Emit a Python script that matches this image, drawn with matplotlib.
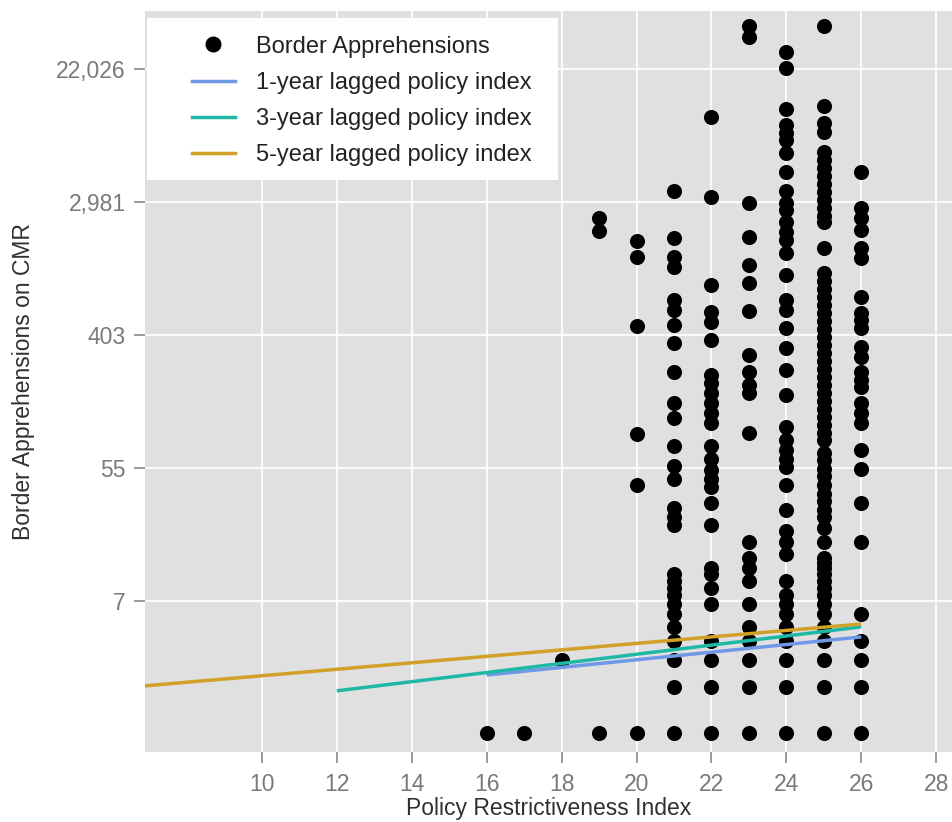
import numpy as np
import matplotlib
matplotlib.use("Agg")
import matplotlib.pyplot as plt
from matplotlib.lines import Line2D
from matplotlib.patches import Rectangle
from matplotlib.ticker import FixedLocator, NullLocator

### DATA
# policy restrictiveness index (x) and border apprehension counts read per column
policy_index = [16, 17, 18, 19, 20, 21, 22, 23, 24, 25, 26]
apprehensions = [
    [1],
    [1],
    [3],
    [1, 1940, 2350],
    [1, 42, 91, 464, 1310, 1670],
    [1, 2, 3, 4, 5, 6, 7, 8, 9, 10, 11, 23, 26, 30, 46, 56, 76, 116, 145, 232,
     358, 470, 590, 685, 1130, 1310, 1740, 3530],
    [1, 2, 3, 4, 7, 9, 11, 12, 23, 32, 41, 46, 53, 62, 76, 108, 125, 145, 169,
     196, 221, 376, 492, 572, 855, 3220, 10700],
    [1, 2, 3, 4, 5, 7, 10, 12, 14, 18, 92, 169, 190, 232, 299, 580, 880, 1160,
     1770, 2950, 35700, 42200],
    [1, 2, 3, 4, 5, 6, 7, 8, 10, 15, 18, 21, 29, 42, 55, 62, 71, 83, 101, 164,
     240, 333, 450, 590, 685, 1000, 1390, 1690, 1900, 2210, 2650, 2950, 3530,
     4720, 6260, 7630, 8430, 9520, 12100, 22500, 28600],
    [1, 2, 3, 4, 5, 6, 7, 8, 9, 10, 11, 12, 13, 14, 18, 22, 26, 29, 33, 37, 42,
     48, 54, 61, 68, 83, 92, 104, 118, 133, 150, 169, 190, 215, 242, 273, 308,
     348, 392, 442, 499, 563, 635, 716, 808, 911, 1028, 1500, 2210, 2420, 2730,
     3080, 3480, 3930, 4430, 5010, 5650, 6360, 8560, 9800, 12700, 42200],
    [1, 2, 3, 4, 6, 18, 32, 54, 71, 108, 125, 145, 185, 205, 232, 290, 337, 450,
     507, 563, 715, 1290, 1500, 1960, 2350, 2730, 4720],
]

# fitted lines (end points)
lag1_x = [16, 26]
lag1_y = [2.41, 4.28]
lag3_x = [12, 26]
lag3_y = [1.90, 4.98]
lag5_x = [6.5, 26]
lag5_y = [2.01, 5.20]

line_labels = ["1-year lagged policy index", "3-year lagged policy index",
               "5-year lagged policy index"]
line_colors = ["#6f98e6", "#1fb8a6", "#d1a127"]

ytick_vals = np.exp([2, 4, 6, 8, 10])
xtick_vals = [10, 12, 14, 16, 18, 20, 22, 24, 26, 28]

### PLOT
plt.rcParams["font.family"] = ["Liberation Sans", "DejaVu Sans"]

fig = plt.figure(figsize=(9.52, 8.22), dpi=100)
ax = fig.add_axes([0.1523, 0.0852, 0.8477, 0.9014])
ax.set_facecolor("#e0e0e0")
for s in ax.spines.values():
    s.set_visible(False)

xs = np.concatenate([[x] * len(v) for x, v in zip(policy_index, apprehensions)])
ys = np.concatenate(apprehensions)
ax.scatter(xs, ys, s=118, color="black", linewidths=0, zorder=3)

for lx, ly, c in zip([lag1_x, lag3_x, lag5_x], [lag1_y, lag3_y, lag5_y], line_colors):
    ax.plot(lx, ly, color=c, lw=2.5, zorder=4, solid_capstyle="butt")

ax.set_yscale("log")
ax.set_xlim(6.88, 28.42)
ax.set_ylim(np.exp(-0.279), np.exp(10.88))
ax.yaxis.set_major_locator(FixedLocator(ytick_vals))
ax.yaxis.set_minor_locator(NullLocator())
ax.set_yticklabels([f"{round(v):,}" for v in ytick_vals])
ax.set_xticks(xtick_vals)

ax.grid(True, color="white", lw=1.3)
ax.set_axisbelow(True)
ax.tick_params(length=8, width=1.2, color="#8a8a8a", labelcolor="#7a7a7a",
               labelsize=16.5)
ax.tick_params(axis="x", pad=7)
ax.tick_params(axis="y", pad=6)

ax.set_xlabel("Policy Restrictiveness Index", fontsize=16.5, color="#303030", labelpad=1)
ax.set_ylabel("Border Apprehensions on CMR", fontsize=16.5, color="#303030", labelpad=15)

# white legend panel
ax.add_patch(Rectangle((0.0025, 0.7719), 0.5093, 0.2187, transform=ax.transAxes,
                       facecolor="white", edgecolor="none", zorder=5))

handles = [Line2D([], [], ls="none", marker="o", ms=10.5, color="black",
                  label="Border Apprehensions")]
for lab, c in zip(line_labels, line_colors):
    handles.append(Line2D([], [], color=c, lw=2.5, label=lab))
leg = ax.legend(handles=handles, loc="upper left", bbox_to_anchor=(0.0582, 0.9666),
                borderaxespad=0, borderpad=0, fontsize=17, frameon=False,
                handlelength=1.82, handletextpad=0.89, labelspacing=0.6)
leg.set_zorder(6)
for t in leg.get_texts():
    t.set_color("#222222")

fig.savefig("out.png", dpi=100)
